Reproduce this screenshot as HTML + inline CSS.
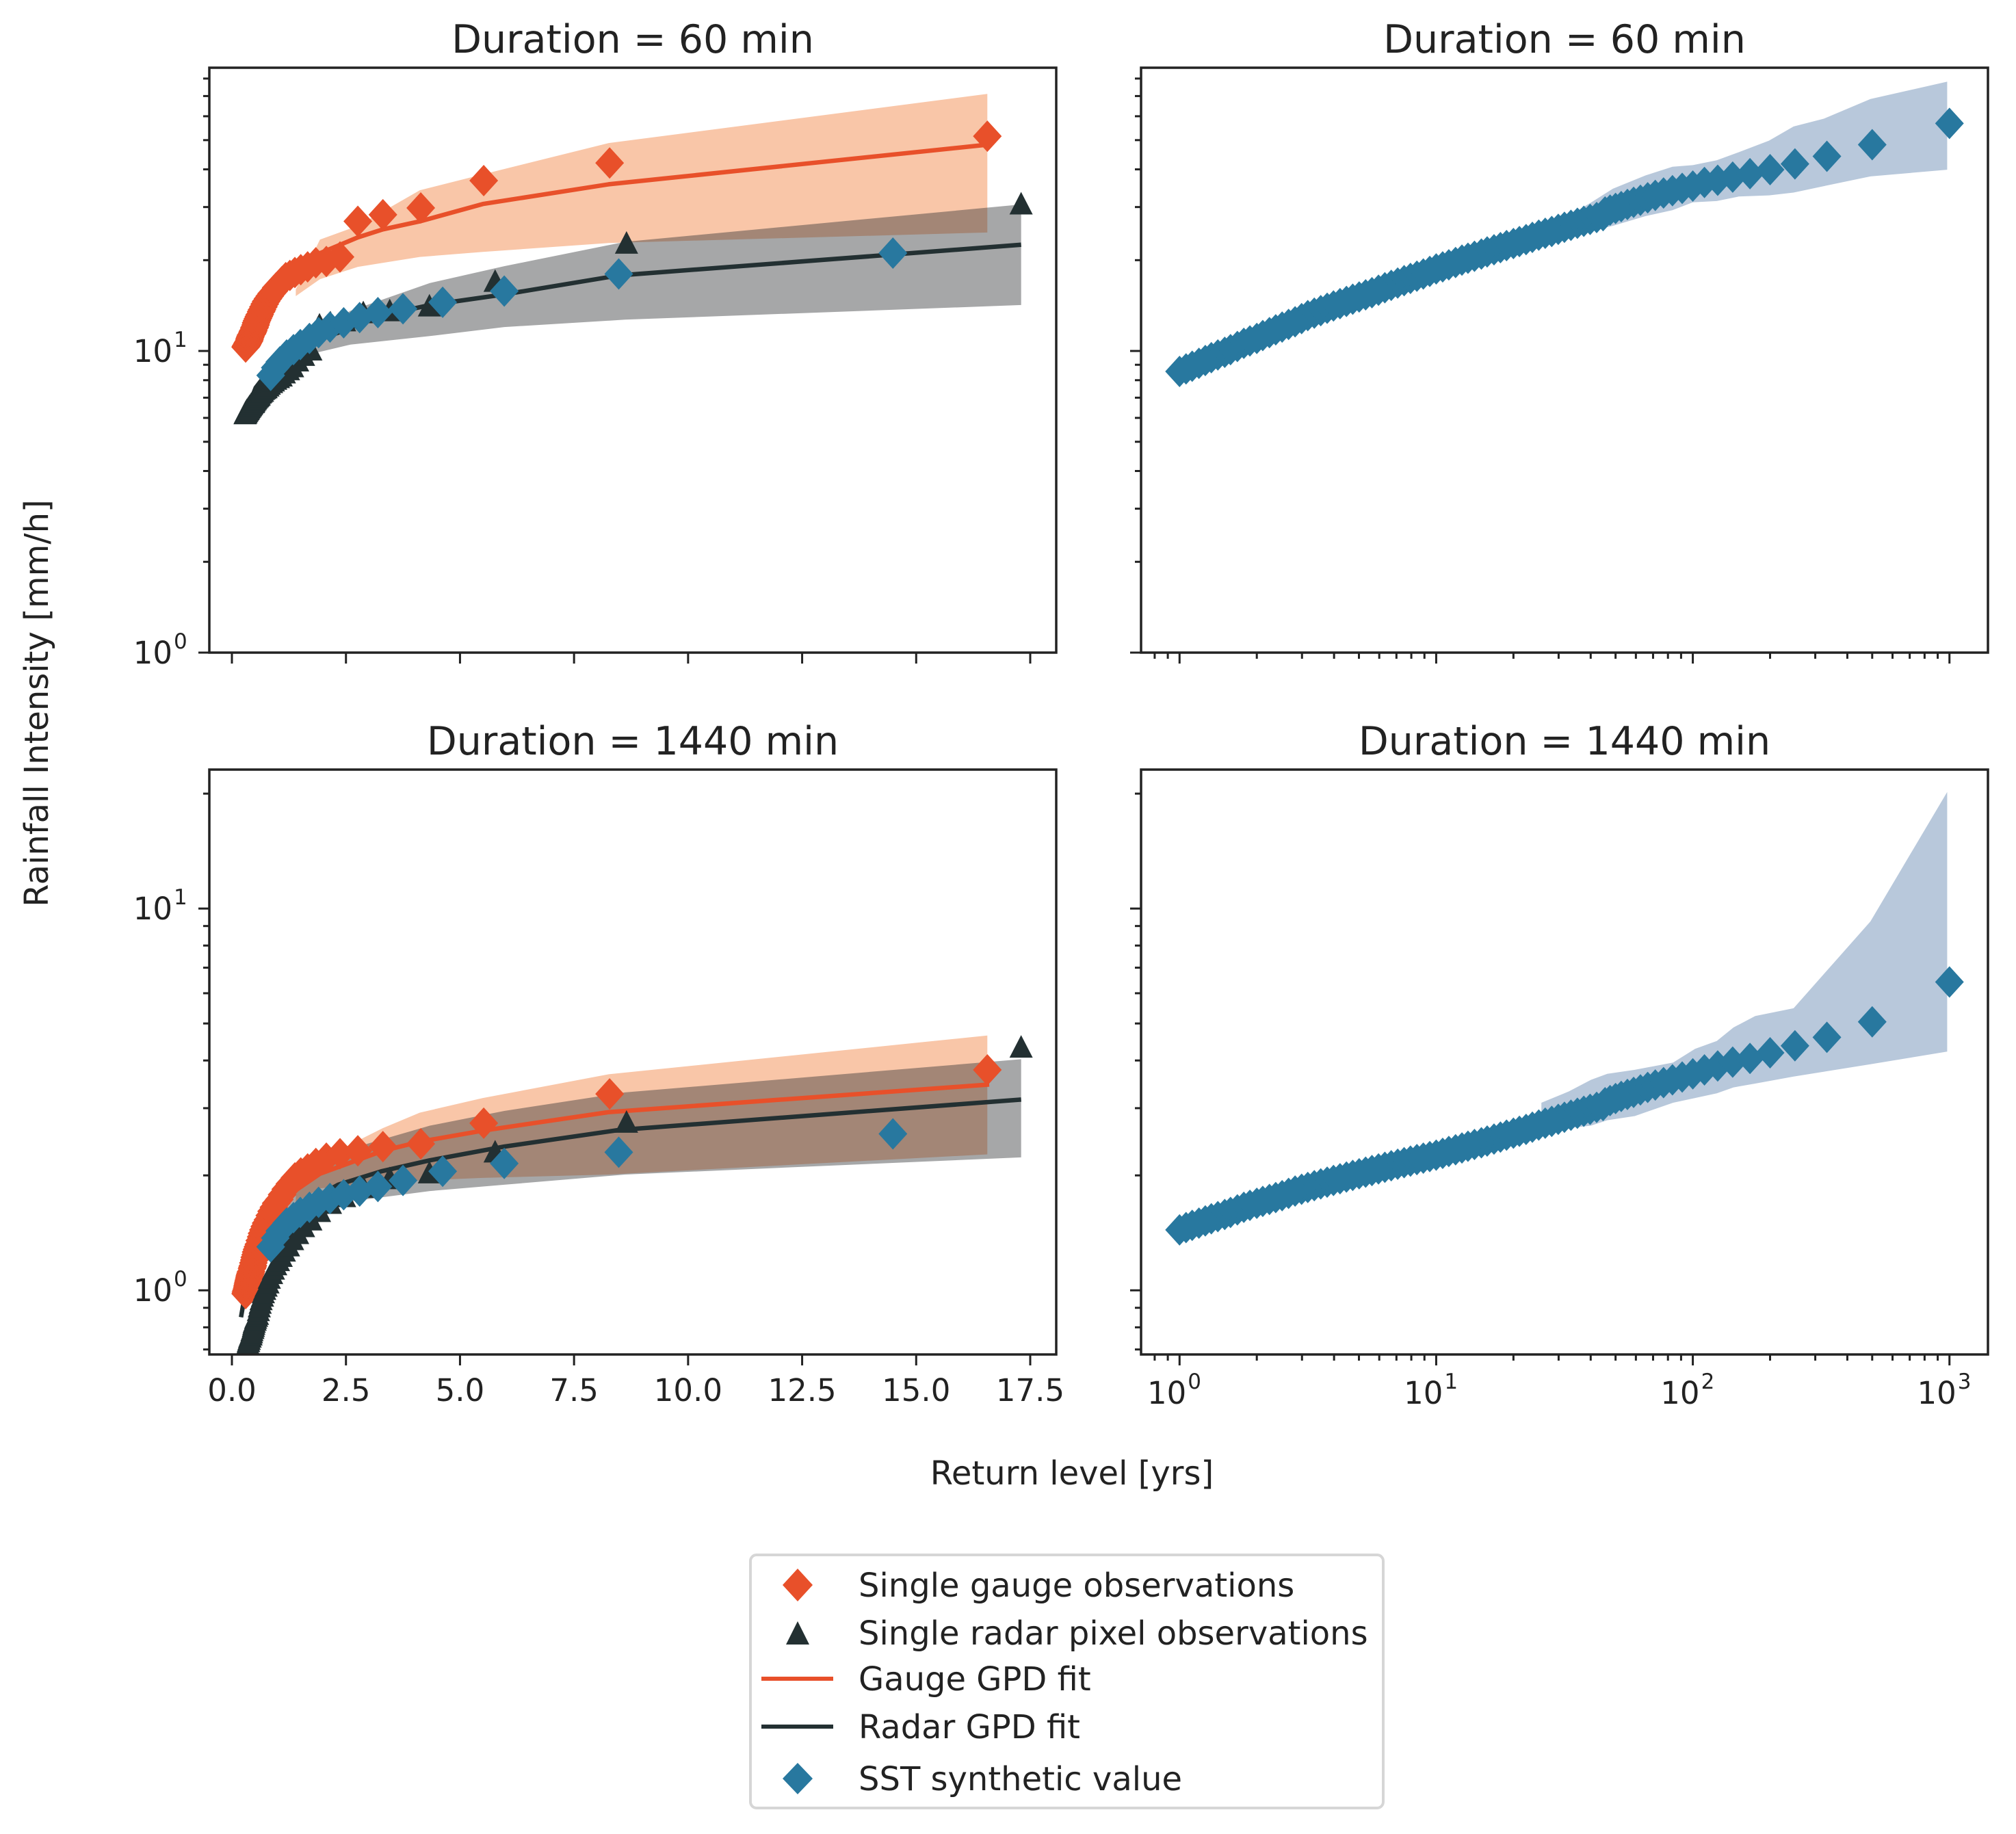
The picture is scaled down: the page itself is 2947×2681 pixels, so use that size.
<!DOCTYPE html>
<html><head><meta charset="utf-8"><style>
html,body{margin:0;padding:0;background:#fff;}
svg{display:block;font-family:"DejaVu Sans","Liberation Sans",sans-serif;}
</style></head><body>
<svg id="fig" width="2947" height="2681" viewBox="0 0 2947 2681" xmlns="http://www.w3.org/2000/svg">
<rect width="2947" height="2681" fill="#fff"/>
<g id="layer"></g>
<text x="0" y="0" transform="translate(70,1028) rotate(-90)" text-anchor="middle" font-size="48" fill="#222">Rainfall Intensity [mm/h]</text>
<text x="1567" y="2170" text-anchor="middle" font-size="48" fill="#222">Return level [yrs]</text>
<g>
<rect x="1097" y="2273" width="925" height="370" rx="9" fill="#fff" stroke="#d6d6d6" stroke-width="4"/>
<path d="M1166,2293 L1188,2317 L1166,2341 L1144,2317 Z" fill="#E8502A"/>
<text x="1255" y="2334" font-size="48" fill="#222">Single gauge observations</text>
<path d="M1166,2370 L1183,2404 L1149,2404 Z" fill="#233032"/>
<text x="1255" y="2404" font-size="48" fill="#222">Single radar pixel observations</text>
<line x1="1113" y1="2454" x2="1218" y2="2454" stroke="#E8502A" stroke-width="6"/>
<text x="1255" y="2471" font-size="48" fill="#222">Gauge GPD fit</text>
<line x1="1113" y1="2524" x2="1218" y2="2524" stroke="#233032" stroke-width="6"/>
<text x="1255" y="2541" font-size="48" fill="#222">Radar GPD fit</text>
<path d="M1166,2577 L1188,2600 L1166,2623 L1144,2600 Z" fill="#28789F"/>
<text x="1255" y="2617" font-size="48" fill="#222">SST synthetic value</text>
</g>
</svg>
<script>
// ---------- DATA ----------
const gaugeX = [16.56,8.28,5.52,4.14,3.31,2.76,2.37,2.07,1.84,1.66,1.51,1.38,1.27,1.18,1.10,1.04,0.97,0.92,0.87,0.83,0.79,0.75,0.72,0.69,0.66,0.64,0.61,0.59,0.57,0.55,0.53,0.52,0.50,0.49,0.47,0.46,0.45,0.44,0.42,0.41,0.40,0.39,0.385,0.376,0.368,0.36,0.352,0.345,0.338,0.331,0.325,0.318,0.312,0.307,0.301];
const gauge60 = [51.5,42,36.7,29.8,28.3,26.9,20.5,19.8,19.6,19.0,18.6,18.2,17.8,17.5,17.0,16.6,16.2,15.8,15.5,15.2,14.9,14.6,14.3,14.0,13.7,13.5,13.2,13.0,12.8,12.6,12.4,12.2,12.0,11.9,11.7,11.6,11.5,11.4,11.3,11.2,11.1,11.0,10.9,10.8,10.75,10.7,10.65,10.6,10.55,10.5,10.45,10.4,10.4,10.35,10.3];
const gauge1440 = [3.78,3.27,2.74,2.42,2.38,2.32,2.28,2.22,2.15,2.08,2.03,1.97,1.9,1.84,1.78,1.73,1.69,1.65,1.61,1.57,1.53,1.5,1.47,1.44,1.41,1.38,1.35,1.32,1.3,1.28,1.26,1.24,1.22,1.2,1.18,1.16,1.15,1.14,1.12,1.11,1.1,1.09,1.08,1.07,1.06,1.05,1.04,1.03,1.02,1.01,1.0,1.0,0.99,0.99,0.98];
const radarX = [17.3,8.65,5.77,4.33,3.46,2.88,2.47,2.16,1.92,1.73,1.57,1.44,1.33,1.24,1.15,1.08,1.02,0.96,0.91,0.87,0.82,0.79,0.75,0.72,0.69,0.67,0.64,0.62,0.60,0.58,0.56,0.54,0.52,0.51,0.49,0.48,0.47,0.46,0.44,0.43,0.42,0.41,0.40,0.39,0.38,0.376,0.368,0.36,0.353,0.346,0.339,0.333,0.326,0.32,0.315,0.309,0.304,0.298,0.293,0.288];
const radar60 = [30.5,22.6,16.9,14.0,13.5,13.3,12.5,12.3,12.1,10.0,9.6,9.2,8.8,8.6,8.4,8.2,8.1,8.0,7.9,7.8,7.7,7.6,7.5,7.45,7.4,7.3,7.25,7.2,7.1,7.05,7.0,6.95,6.9,6.85,6.8,6.75,6.7,6.7,6.65,6.6,6.6,6.55,6.5,6.5,6.45,6.45,6.4,6.4,6.35,6.35,6.3,6.3,6.3,6.25,6.25,6.2,6.2,6.2,6.15,6.15];
const radar1440 = [4.31,2.74,2.29,2.02,1.95,1.85,1.75,1.68,1.6,1.52,1.46,1.4,1.35,1.3,1.26,1.22,1.19,1.16,1.13,1.1,1.07,1.04,1.02,1.0,0.98,0.96,0.94,0.92,0.9,0.88,0.86,0.85,0.84,0.83,0.82,0.81,0.8,0.79,0.78,0.77,0.76,0.76,0.75,0.75,0.74,0.74,0.73,0.73,0.72,0.72,0.71,0.71,0.71,0.7,0.7,0.7,0.7,0.69,0.69,0.69];
const sstLeftX = [14.49,8.48,5.97,4.62,3.75,3.2,2.8,2.45,2.15,1.9,1.7,1.5,1.35,1.2,1.05,0.95,0.85];
const sstLeft60 = [21.1,18.0,15.8,14.5,13.8,13.4,12.9,12.4,12.0,11.5,11.0,10.5,10.1,9.7,9.2,8.8,8.3];
const sstLeft1440 = [2.57,2.30,2.15,2.05,1.94,1.87,1.82,1.78,1.74,1.70,1.65,1.60,1.55,1.5,1.43,1.37,1.3];

const gaugeFitX60 = [0.3,0.46,0.73,1.0,1.4,1.93,2.76,3.31,4.12,5.5,8.26,16.56];
const gaugeFit60 = [10.5,12.3,14.7,16.5,18.5,21.1,23.8,25.3,26.9,30.7,35.7,48.3];
const radarFitX60 = [0.4,0.52,0.73,1.0,1.39,2.33,3.27,4.34,5.97,8.48,17.3];
const radarFit60 = [6.8,7.55,8.3,9.2,10.2,11.5,13.1,14.2,15.4,17.8,22.5];
const gaugeBandX60 = [1.4,1.93,2.76,4.12,5.5,8.26,16.56];
const gaugeUp60 = [16.0,23.4,26.0,34.1,38.5,48.9,71.2];
const gaugeLo60 = [15.2,17.3,19.0,20.5,21.3,22.8,24.7];
const radarBandX60 = [1.0,1.39,2.6,4.34,5.97,8.62,17.3];
const radarUp60 = [9.6,10.5,13.6,16.8,19.1,23.0,30.6];
const radarLo60 = [8.9,9.5,10.5,11.2,12.0,12.7,14.2];

const gaugeFitX1440 = [0.19,0.46,0.73,1.26,1.93,3.31,4.12,5.5,8.26,16.6];
const gaugeFit1440 = [1.05,1.28,1.47,1.78,2.02,2.32,2.45,2.62,2.93,3.46];
const radarFitX1440 = [0.2,0.32,0.52,0.86,1.39,2.33,3.27,4.34,5.97,8.48,17.3];
const radarFit1440 = [0.85,1.03,1.21,1.43,1.64,1.89,2.05,2.19,2.38,2.63,3.16];
const gaugeBandX1440 = [1.4,1.93,3.31,4.12,5.5,8.26,16.56];
const gaugeUp1440 = [1.9,2.2,2.66,2.92,3.19,3.68,4.65];
const gaugeLo1440 = [1.7,1.85,1.91,1.94,1.97,2.01,2.27];
const radarBandX1440 = [0.86,1.39,2.6,4.34,5.97,8.62,17.3];
const radarUp1440 = [1.69,1.94,2.35,2.70,2.95,3.30,4.03];
const radarLo1440 = [1.35,1.51,1.71,1.82,1.89,2.01,2.23];

const sstDenseX = [1,1.06,1.12,1.19,1.26,1.33,1.41,1.5,1.58,1.68,1.78,1.88,2,2.11,2.24,2.37,2.51,2.66,2.82,2.99,3.16,3.35,3.55,3.76,3.98,4.22,4.47,4.73,5.01,5.31,5.62,5.96,6.31,6.68,7.08,7.5,7.94,8.41,8.91,9.44,10,10.6,11.2,11.9,12.6,13.3,14.1,15,15.8,16.8,17.8,18.8,20,21.1,22.4,23.7,25.1,26.6,28.2,29.9,31.6,33.5,35.5,37.6,39.8,42.2,44.7];
const sstDense60 = [8.55,8.72,8.9,9.1,9.3,9.5,9.7,9.9,10.1,10.35,10.6,10.8,11.0,11.25,11.5,11.75,12.0,12.25,12.5,12.8,13.1,13.35,13.6,13.85,14.1,14.35,14.6,14.85,15.1,15.35,15.6,15.9,16.2,16.5,16.8,17.1,17.4,17.7,18.0,18.35,18.7,19.0,19.3,19.65,20.0,20.3,20.6,20.95,21.3,21.65,22.0,22.35,22.7,23.05,23.4,23.8,24.2,24.55,24.9,25.3,25.7,26.1,26.5,26.9,27.3,27.7,28.1];
const sstDense1440 = [1.44,1.46,1.48,1.50,1.52,1.54,1.56,1.58,1.60,1.625,1.65,1.67,1.69,1.71,1.73,1.75,1.77,1.795,1.82,1.84,1.86,1.88,1.90,1.92,1.94,1.96,1.98,2.00,2.02,2.04,2.06,2.08,2.10,2.12,2.14,2.16,2.18,2.20,2.22,2.24,2.26,2.285,2.31,2.335,2.36,2.385,2.41,2.435,2.46,2.49,2.52,2.55,2.58,2.61,2.64,2.675,2.71,2.74,2.77,2.805,2.84,2.875,2.91,2.945,2.98,3.015,3.05];
const sstTopX = [1000,500,333,250,200,167,143,125,111,100,90.9,83.3,76.9,71.4,66.7,62.5,58.8,55.6,52.6,50,47.6,45.5];
const sstTop60 = [56.8,48.3,44.2,41.7,39.9,38.7,37.7,36.8,36.2,35.2,34.6,34.0,33.4,32.8,32.2,31.6,31.1,30.6,30.1,29.7,29.3,28.9];
const sstTop1440 = [6.42,5.05,4.60,4.37,4.19,4.05,3.96,3.87,3.78,3.69,3.62,3.56,3.50,3.45,3.40,3.35,3.30,3.26,3.22,3.18,3.14,3.10];

const sstBandX60 = [28,40,48.8,65.5,83.3,100,124,151,198,247,324,492,980];
const sstUp60 = [26,31,34.5,38.2,40.8,41.3,42.9,45.6,49.8,55.5,58.9,68.4,78.1];
const sstLo60 = [24,25,26.0,28.0,29.3,31.1,31.4,32.5,32.8,33.5,35.2,37.9,39.9];
const sstBandX1440 = [25.7,32.9,40.1,46.4,59.4,83.8,102,124,144,175,247,492,980];
const sstUp1440 = [3.10,3.32,3.56,3.69,3.78,3.95,4.29,4.50,4.88,5.23,5.48,9.25,20.2];
const sstLo1440 = [2.76,2.66,2.70,2.79,2.86,3.10,3.19,3.28,3.40,3.48,3.63,3.91,4.22];

const xTicksLin = [0,2.5,5,7.5,10,12.5,15,17.5];
const xTickLabelsLin = ["0.0","2.5","5.0","7.5","10.0","12.5","15.0","17.5"];

// ---------- COLORS ----------
const C_GAUGE="#E8502A", C_RADAR="#233032", C_SST="#28789F";
const NS="http://www.w3.org/2000/svg";
const layer=document.getElementById('layer');
function mk(tag,attrs,parent){const e=document.createElementNS(NS,tag);for(const k in attrs)e.setAttribute(k,attrs[k]);(parent||layer).appendChild(e);return e;}

function makePanel(x0,y0,w,h,xLog,xmin,xmax,ymin,ymax){
  return {x0,y0,w,h,
    sx: v=> xLog ? x0+(Math.log10(v)-xmin)/(xmax-xmin)*w : x0+(v-xmin)/(xmax-xmin)*w,
    sy: v=> y0+h-(Math.log10(v)-ymin)/(ymax-ymin)*h, xLog,xmin,xmax,ymin,ymax};
}
const TL=makePanel(306,99,1238,855,false,-0.495,18.07,0,1.939);
const BL=makePanel(306,1125,1238,855,false,-0.495,18.07,-0.168,1.364);
const TR=makePanel(1668,99,1238,855,true,-0.15,3.15,0,1.939);
const BR=makePanel(1668,1125,1238,855,true,-0.15,3.15,-0.168,1.364);

function clip(p,id){const d=mk('clipPath',{id});mk('rect',{x:p.x0,y:p.y0,width:p.w,height:p.h},d);}
clip(TL,'cTL');clip(BL,'cBL');clip(TR,'cTR');clip(BR,'cBR');

function band(g,p,xs,up,lo,fill,op,name){
  let d='';
  xs.forEach((x,i)=>{d+=(i?'L':'M')+p.sx(x).toFixed(1)+','+p.sy(up[i]).toFixed(1);});
  for(let i=xs.length-1;i>=0;i--) d+='L'+p.sx(xs[i]).toFixed(1)+','+p.sy(lo[i]).toFixed(1);
  const e=mk('path',{d:d+'Z',fill,'fill-opacity':op},g);
  
  
}
function line(g,p,xs,ys,col,name){
  const pts=xs.map((x,i)=>p.sx(x).toFixed(1)+','+p.sy(ys[i]).toFixed(1)).join(' ');
  const e=mk('polyline',{points:pts,fill:'none',stroke:col,'stroke-width':6.5,'stroke-linejoin':'round'},g);
  
  
}
function diamonds(g,p,xs,ys,col,name){
  for(let i=xs.length-1;i>=0;i--){
    const cx=p.sx(xs[i]),cy=p.sy(ys[i]);
    const e=mk('path',{d:`M${cx},${cy-23}L${cx+21},${cy}L${cx},${cy+23}L${cx-21},${cy}Z`,fill:col},g);
    
    
  }
}
function triangles(g,p,xs,ys,col,name){
  for(let i=xs.length-1;i>=0;i--){
    const cx=p.sx(xs[i]),cy=p.sy(ys[i]);
    const e=mk('path',{d:`M${cx},${cy-19}L${cx+17},${cy+14}L${cx-17},${cy+14}Z`,fill:col},g);
    
    
  }
}

function axes(p,name,title,showYLabels,showXLabels){
  const g=mk('g',{});
  
  
  for(let e=Math.floor(p.ymin)-1;e<=Math.ceil(p.ymax);e++){
    for(let m=1;m<10;m++){
      const v=m*Math.pow(10,e), lv=Math.log10(v);
      if(lv<p.ymin-1e-6||lv>p.ymax+1e-6) continue;
      const y=p.sy(v), len=m===1?16:9;
      mk('line',{x1:p.x0-len,y1:y,x2:p.x0,y2:y,stroke:'#222','stroke-width':3},g);
      if(m===1&&showYLabels){
        const t=mk('text',{x:p.x0-54,y:y+16,'text-anchor':'end','font-size':45,fill:'#222'},g);
        t.textContent='10';
        
        
        const s=mk('text',{x:p.x0-52,y:y-6,'font-size':31,fill:'#222'},g);
        s.textContent=String(e);
      }
    }
  }
  if(p.xLog){
    for(let e=-1;e<=3;e++){
      for(let m=1;m<10;m++){
        const v=m*Math.pow(10,e), lv=Math.log10(v);
        if(lv<p.xmin||lv>p.xmax) continue;
        const x=p.sx(v), len=m===1?16:9;
        mk('line',{x1:x,y1:p.y0+p.h,x2:x,y2:p.y0+p.h+len,stroke:'#222','stroke-width':3},g);
        if(m===1&&showXLabels){
          const t=mk('text',{x:x+10,y:p.y0+p.h+72,'text-anchor':'end','font-size':45,fill:'#222'},g);
          t.textContent='10';
          
          
          const s=mk('text',{x:x+12,y:p.y0+p.h+50,'font-size':31,fill:'#222'},g);
          s.textContent=String(e);
        }
      }
    }
  } else {
    xTicksLin.forEach((v,i)=>{
      const x=p.sx(v);
      mk('line',{x1:x,y1:p.y0+p.h,x2:x,y2:p.y0+p.h+16,stroke:'#222','stroke-width':3},g);
      if(showXLabels){
        const t=mk('text',{x:x,y:p.y0+p.h+68,'text-anchor':'middle','font-size':45,fill:'#222'},g);
        t.textContent=xTickLabelsLin[i];
        
        
      }
    });
  }
  mk('rect',{x:p.x0,y:p.y0,width:p.w,height:p.h,fill:'none',stroke:'#222','stroke-width':3.5},g);
  const tt=mk('text',{x:p.x0+p.w/2,y:p.y0-22,'text-anchor':'middle','font-size':57,fill:'#222'},g);
  tt.textContent=title;
  
  
}

function leftPanel(p,cid,name,gBX,gU,gL,rBX,rU,rL,gFX,gF,rFX,rF,gY,rY,sY){
  const g=mk('g',{'clip-path':`url(#${cid})`});
  
  
  band(g,p,gBX,gU,gL,'#F9C6A8',1,'gauge-confidence-band');
  band(g,p,rBX,rU,rL,'#303236',0.43,'radar-confidence-band');
  line(g,p,gFX,gF,C_GAUGE,'gauge-gpd-fit');
  line(g,p,rFX,rF,C_RADAR,'radar-gpd-fit');
  diamonds(g,p,gaugeX,gY,C_GAUGE,'gauge-observation');
  triangles(g,p,radarX,rY,C_RADAR,'radar-observation');
  diamonds(g,p,sstLeftX,sY,C_SST,'sst-synthetic-value');
}
function rightPanel(p,cid,name,bX,bU,bL,dY,tY){
  const g=mk('g',{'clip-path':`url(#${cid})`});
  
  
  band(g,p,bX,bU,bL,'#B8C8DB',1,'sst-confidence-band');
  diamonds(g,p,sstTopX,tY,C_SST,'sst-synthetic-value');
  diamonds(g,p,sstDenseX,dY,C_SST,'sst-synthetic-value');
}

leftPanel(TL,'cTL','top-left',gaugeBandX60,gaugeUp60,gaugeLo60,radarBandX60,radarUp60,radarLo60,gaugeFitX60,gaugeFit60,radarFitX60,radarFit60,gauge60,radar60,sstLeft60);
leftPanel(BL,'cBL','bottom-left',gaugeBandX1440,gaugeUp1440,gaugeLo1440,radarBandX1440,radarUp1440,radarLo1440,gaugeFitX1440,gaugeFit1440,radarFitX1440,radarFit1440,gauge1440,radar1440,sstLeft1440);
rightPanel(TR,'cTR','top-right',sstBandX60,sstUp60,sstLo60,sstDense60,sstTop60);
rightPanel(BR,'cBR','bottom-right',sstBandX1440,sstUp1440,sstLo1440,sstDense1440,sstTop1440);

axes(TL,'top-left','Duration = 60 min',true,false);
axes(BL,'bottom-left','Duration = 1440 min',true,true);
axes(TR,'top-right','Duration = 60 min',false,false);
axes(BR,'bottom-right','Duration = 1440 min',false,true);
</script>
</body></html>
